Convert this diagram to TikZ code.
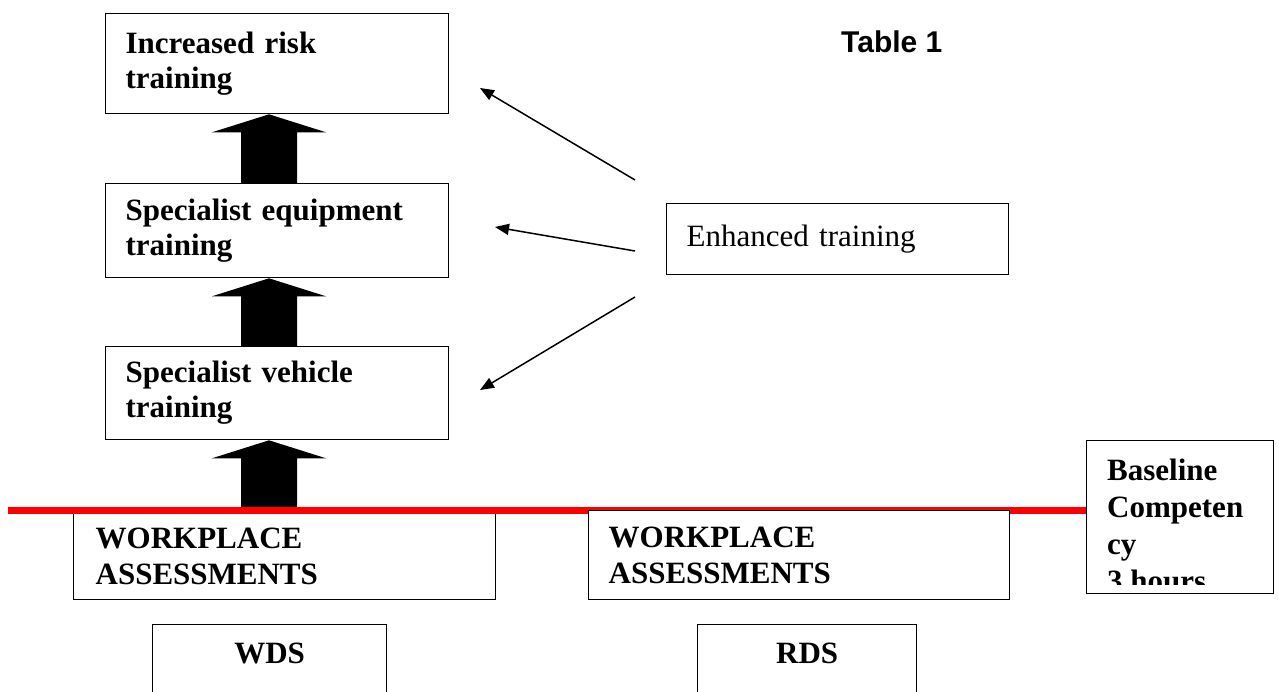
\documentclass[tikz,border=0pt]{standalone}
\usepackage{fontspec}
\setmainfont{Liberation Serif}
\newfontfamily\headfont{Liberation Sans}
\usepackage{tikz}
\usetikzlibrary{arrows.meta,positioning,calc}
\usepackage{xcolor}
\definecolor{LineR}  {RGB}{255,  0,  0}
\definecolor{InkB}   {RGB}{0,    0,  0}
% thick upward arrow between two stages, along the spine
\newcommand{\upblock}[2]{%
  \fill[InkB] ($(#1 -| spine)+(-28,0)$) -- ($(#2 -| spine)+(-28,18)$)
    -- ($(#2 -| spine)+(-57,18)$) -- (#2 -| spine) -- ($(#2 -| spine)+(57,18)$)
    -- ($(#2 -| spine)+(28,18)$) -- ($(#1 -| spine)+(28,0)$) -- cycle;}

\begin{document}
\begin{tikzpicture}[x=1pt,y=-1pt,
    stagebox/.style={draw=InkB,line width=1.3pt,fill=white,anchor=north west,
      align=left,inner xsep=20pt,inner ysep=0pt,
      font=\bfseries\fontsize{31}{35}\selectfont},
    plainbox/.style={stagebox,font=\fontsize{31}{35}\selectfont},
    unitbox/.style={stagebox,align=center,inner xsep=0pt,text height=39pt,text depth=100pt},
    feed/.style={-{Triangle[length=14pt,width=11pt]},line width=1.5pt,InkB},
    redline/.style={LineR,line width=7pt}]
  \useasboundingbox (0,0) rectangle (1279,692);
  \coordinate (spine) at (269,0);
  \coordinate (redleft) at (8,510);

  \node[stagebox,text width=303,minimum height=100] (risk) at (105,13) {Increased risk\\training};
  \node[stagebox,text width=303,minimum height=94] (equip) at (105,183) {Specialist equipment\\training};
  \node[stagebox,text width=303,minimum height=93] (vehicle) at (105,346) {Specialist vehicle\\training};
  \node[plainbox,text width=302,minimum height=71] (enh) at (666,203) {Enhanced training};
  \node[font=\headfont\bfseries\fontsize{30}{36}\selectfont,anchor=base west,inner sep=0pt]
    (tab) at (841,53) {Table 1};

  \upblock{equip.north}{risk.south}
  \upblock{vehicle.north}{equip.south}
  \upblock{redleft}{vehicle.south}

  \foreach \n/\sy/\tx/\ty in {1/180/480/88,2/251/495/227,3/297/480/390}{
    \coordinate (src\n) at (635,\sy);
    \coordinate (dst\n) at (\tx,\ty);
    \draw[feed] (src\n) -- (dst\n);}

  \node[stagebox,inner xsep=22pt,text width=378,minimum height=87,
    font=\bfseries\fontsize{31}{36}\selectfont] (wpw) at (73,512) {WORKPLACE\\ASSESSMENTS};
  \node[draw=InkB,line width=1.3pt,fill=white,anchor=north west,minimum width=187,
    minimum height=153,inner sep=0pt] (base) at (1086,440) {};
  \draw[redline] (redleft) -- (redleft -| base.west);
  \node[stagebox,text width=381,minimum height=89,
    font=\bfseries\fontsize{31}{36}\selectfont] (wpr) at (588,510) {WORKPLACE\\ASSESSMENTS};
  \node[draw=InkB,line width=1.3pt,fill=white,anchor=north west,minimum width=187,
    minimum height=153,inner sep=0pt] at (base.north west) {};
  \begin{scope}
    \clip (base.north west) rectangle ([yshift=10pt]base.south east);
    \node[anchor=north west,align=left,inner sep=0pt,font=\bfseries\fontsize{31}{37}\selectfont]
      (basetext) at (1107,459) {Baseline\\Competen\\cy\\3 hours};
  \end{scope}

  \node[unitbox,text width=234] (wds) at (152,624) {WDS};
  \node[unitbox,text width=219] (rds) at (697,624) {RDS};
\end{tikzpicture}
\end{document}
